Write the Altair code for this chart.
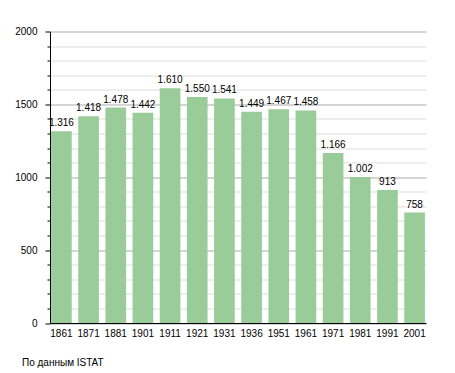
import altair as alt
import pandas as pd

years = ["1861", "1871", "1881", "1901", "1911", "1921", "1931",
         "1936", "1951", "1961", "1971", "1981", "1991", "2001"]
population = [1316, 1418, 1478, 1442, 1610, 1550, 1541,
              1449, 1467, 1458, 1166, 1002, 913, 758]
y_ticks = list(range(0, 2001, 100))
source_note = "По данным  ISTAT"

labels = [f"{v:,}".replace(",", ".") for v in population]
df = pd.DataFrame({"year": years, "pop": population, "label": labels})

FONT = "Liberation Sans"
major = "datum.value % 500 === 0"

base = alt.Chart(df).encode(
    x=alt.X(
        "year:N",
        sort=None,
        scale=alt.Scale(paddingInner=0.24, paddingOuter=0.04),
        axis=alt.Axis(
            title=None, labelAngle=0, ticks=False, domainColor="black",
            labelFont=FONT, labelFontSize=10, labelColor="black",
            labelPadding=5, grid=False,
        ),
    ),
    y=alt.Y(
        "pop:Q",
        scale=alt.Scale(domain=[0, 2000], nice=False),
        axis=alt.Axis(
            title=None,
            values=y_ticks,
            format="d",
            labelExpr=f"{major} ? datum.label : ''",
            labelFont=FONT, labelFontSize=10, labelColor="black",
            labelPadding=8,
            domainColor="black",
            tickColor="black",
            tickSize={"condition": {"test": major, "value": 5}, "value": 3},
            grid=True,
            gridColor={"condition": {"test": major, "value": "#aaaaaa"}, "value": "#dddddd"},
        ),
    ),
)

bars = base.mark_bar(color="#99cc99")
text = base.mark_text(dy=-5, baseline="alphabetic", fontSize=10, font=FONT, color="black").encode(
    text="label:N"
)

chart = (
    (bars + text)
    .properties(
        width=376,
        height=291.5,
        autosize=alt.AutoSizeParams(type="none"),
        padding={"left": 42, "top": 23.5, "right": 20, "bottom": 48},
        title=alt.TitleParams(
            text=source_note, orient="bottom", anchor="start", frame="group",
            dx=-28, offset=20, fontSize=10, font=FONT, fontWeight="normal", color="black",
        ),
    )
    .configure_view(stroke=None)
)

chart.save("out.html", embed_options={"renderer": "svg", "actions": False})
